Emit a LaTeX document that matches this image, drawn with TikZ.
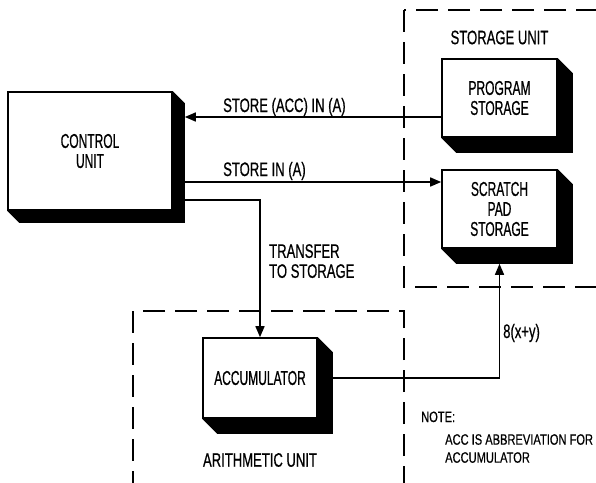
\documentclass[tikz,border=0pt]{standalone}
\usepackage{fontspec}
\setmainfont{Liberation Sans}[FakeStretch=0.6, FakeBold=0.6]
\newfontfamily\labelfont{Liberation Sans}[FakeStretch=0.67, FakeBold=0.6]
\newfontfamily\notefont{Liberation Sans}[FakeStretch=0.74, FakeBold=0.5]
\usetikzlibrary{arrows.meta, calc}

% dark side and bottom of a block
\newcommand{\blockshade}[2]{%
   \fill (#1.north east) -- ++(#2,#2) -- ([shift={(#2,#2)}]#1.south east)
      -- ([shift={(#2,#2)}]#1.south west) -- (#1.south west) -- (#1.south east) -- cycle;}

\begin{document}
\begin{tikzpicture}[x=1pt, y=-1pt,
      block/.style={draw, line width=1.6pt, fill=white, align=center, inner sep=0pt,
         font=\fontsize{20}{20}\selectfont},
      unitbox/.style={line width=1.8pt, dash pattern=on 22pt off 10pt},
      conn/.style={line width=1.5pt},
      arr/.style={conn, -{Triangle[length=11pt,width=9pt]}},
      lbl/.style={font=\labelfont\fontsize{19.5}{20}\selectfont, align=left, inner sep=0pt},
      note/.style={font=\notefont\fontsize{15}{18}\selectfont, align=left, inner sep=0pt}]
   \useasboundingbox (0,0) rectangle (596,482);
   % Units
   \draw[unitbox] (404,10) rectangle (640,287);
   \node[lbl] (storelbl) at (499.5,37.5) {STORAGE UNIT};
   \draw[unitbox] (133,311) rectangle (404,520);
   \node[lbl] (arithlbl) at (260,460) {ARITHMETIC UNIT};
   % Blocks
   \node[block, minimum width=164pt, minimum height=118pt] (ctrl) at (90,151) {CONTROL\\UNIT};
   \node[block, minimum width=115pt, minimum height=78pt] (prog) at (499.5,98) {PROGRAM\\STORAGE};
   \node[block, minimum width=115pt, minimum height=78pt] (scratch) at (499.5,209) {SCRATCH\\PAD\\STORAGE};
   \node[block, minimum width=114pt, minimum height=80pt] (accum) at (260,378) {ACCUMULATOR};
   \blockshade{ctrl}{12}
   \blockshade{prog}{15}
   \blockshade{scratch}{15}
   \blockshade{accum}{15}
   \coordinate (ctrlside) at ([xshift=12pt]ctrl.east);
   \coordinate (accside) at ([xshift=15pt]accum.east);
   \coordinate (scratchfoot) at ([yshift=-15pt]scratch.south);
   % Connectors
   \draw[arr] (prog.west |- 0,117) -- (ctrlside |- 0,117);
   \node[lbl, anchor=base west] (accstore) at (223,112) {STORE (ACC) IN (A)};
   \draw[arr] (ctrlside |- 0,182) -- (scratch.west |- 0,182);
   \node[lbl, anchor=base west] (instore) at (223,176) {STORE IN (A)};
   \draw[arr] (ctrlside |- 0,200) -| (accum.north);
   \node[lbl, anchor=north west] (transfer) at (269,244) {TRANSFER\\TO STORAGE};
   \draw[arr] (accside) -| (scratchfoot);
   \node[lbl, anchor=base west] (sumlbl) at (503,338) {8(x+y)};
   % Note
   \node[note, anchor=base west] (notehead) at (421,422) {NOTE:};
   \node[note, anchor=north west] (notetext) at (445,434) {ACC IS ABBREVIATION FOR\\ACCUMULATOR};
\end{tikzpicture}
\end{document}
